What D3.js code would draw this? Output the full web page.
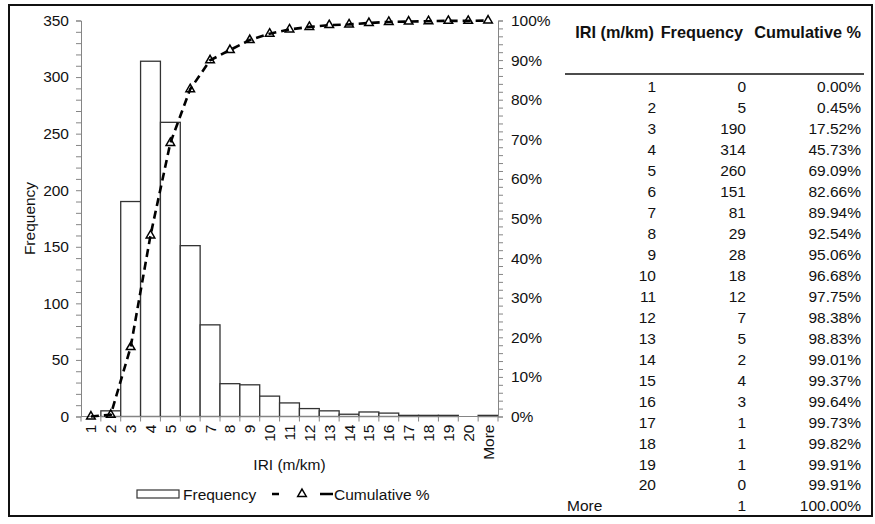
<!DOCTYPE html>
<html>
<head>
<meta charset="utf-8">
<script src="https://cdn.jsdelivr.net/npm/d3@7"></script>
<style>
  html, body { margin: 0; padding: 0; background: #fff; }
  svg { display: block; font-family: "Liberation Sans", Arial, sans-serif; }
</style>
</head>
<body>
<svg id="chart" width="875" height="524"></svg>
<script>
// IRI histogram bins, counts and cumulative share
const binLabels = ["1","2","3","4","5","6","7","8","9","10","11","12","13","14","15","16","17","18","19","20","More"];
const frequency = [0, 5, 190, 314, 260, 151, 81, 29, 28, 18, 12, 7, 5, 2, 4, 3, 1, 1, 1, 0, 1];
const cumulativePct = [0.00, 0.45, 17.52, 45.73, 69.09, 82.66, 89.94, 92.54, 95.06, 96.68, 97.75, 98.38, 98.83, 99.01, 99.37, 99.64, 99.73, 99.82, 99.91, 99.91, 100.00];
const freqTicks = [0, 50, 100, 150, 200, 250, 300, 350];
const pctTicks = [0, 10, 20, 30, 40, 50, 60, 70, 80, 90, 100];
const tableHeaders = ["IRI (m/km)", "Frequency", "Cumulative %"];

const svg = d3.select("#chart");
const FONT = 15.5;

// outer frame
svg.append("rect")
  .attr("x", 9).attr("y", 5).attr("width", 863).attr("height", 511)
  .attr("fill", "none").attr("stroke", "#111").attr("stroke-width", 2);

const plot = { left: 81, right: 498, top: 20.5, bottom: 416.5 };

const x = d3.scaleBand().domain(binLabels).range([plot.left, plot.right]).padding(0);
const yL = d3.scaleLinear().domain([0, 350]).range([plot.bottom, plot.top]);
const yR = d3.scaleLinear().domain([0, 100]).range([plot.bottom, plot.top]);

const axisColor = "#858585";

// bars
svg.append("g").selectAll("rect").data(frequency).join("rect")
  .attr("x", (d, i) => x(binLabels[i]))
  .attr("y", d => yL(d))
  .attr("width", x.bandwidth())
  .attr("height", d => plot.bottom - yL(d))
  .attr("fill", "#fff")
  .attr("stroke", "#333")
  .attr("stroke-width", 1.3);

// left axis: major + minor ticks
const gL = svg.append("g").attr("transform", `translate(${plot.left},0)`);
gL.call(d3.axisLeft(yL).tickValues(d3.range(0, 351, 10)).tickSize(5).tickFormat(""));
gL.call(g => g.selectAll("path,line").attr("stroke", axisColor));
gL.append("g").selectAll("text").data(freqTicks).join("text")
  .attr("x", -12).attr("y", d => yL(d)).attr("dy", "0.35em")
  .attr("text-anchor", "end").attr("font-size", FONT).attr("fill", "#111")
  .text(d => d);

// right axis
const gR = svg.append("g").attr("transform", `translate(${plot.right},0)`);
gR.call(d3.axisRight(yR).tickValues(d3.range(0, 101, 2)).tickSize(5).tickFormat(""));
gR.call(g => g.selectAll("path,line").attr("stroke", axisColor));
gR.append("g").selectAll("text").data(pctTicks).join("text")
  .attr("x", 13).attr("y", d => yR(d)).attr("dy", "0.35em")
  .attr("text-anchor", "start").attr("font-size", FONT).attr("fill", "#111")
  .text(d => d + "%");

// bottom axis: ticks at bin boundaries, rotated labels at bin centres
const gB = svg.append("g").attr("transform", `translate(0,${plot.bottom})`);
gB.append("line").attr("x1", plot.left).attr("x2", plot.right)
  .attr("stroke", axisColor);
const bounds = binLabels.map(c => x(c)).concat([plot.right]);
gB.selectAll("line.tk").data(bounds).join("line").attr("class", "tk")
  .attr("x1", d => d).attr("x2", d => d).attr("y1", 0).attr("y2", 5)
  .attr("stroke", axisColor);
gB.selectAll("text").data(binLabels).join("text")
  .attr("transform", d => `translate(${x(d) + x.bandwidth() / 2},8) rotate(-90)`)
  .attr("dy", "0.35em").attr("text-anchor", "end")
  .attr("font-size", FONT).attr("fill", "#111")
  .text(d => d);

// axis titles
svg.append("text").attr("x", (plot.left + plot.right) / 2).attr("y", 470)
  .attr("text-anchor", "middle").attr("font-size", FONT).attr("fill", "#111")
  .text("IRI (m/km)");
svg.append("text").attr("transform", `translate(35,${(plot.top + plot.bottom) / 2}) rotate(-90)`)
  .attr("text-anchor", "middle").attr("font-size", FONT).attr("fill", "#111")
  .text("Frequency");

// cumulative line
const cx = (d, i) => x(binLabels[i]) + x.bandwidth() / 2;
const line = d3.line().x(cx).y(d => yR(d));
svg.append("path").datum(cumulativePct)
  .attr("d", line).attr("fill", "none")
  .attr("stroke", "#000").attr("stroke-width", 2.6)
  .attr("stroke-dasharray", "8,5");

const tri = d3.symbol().type(d3.symbolTriangle).size(32);
svg.append("g").selectAll("path").data(cumulativePct).join("path")
  .attr("transform", (d, i) => `translate(${cx(d, i)},${yR(d)})`)
  .attr("d", tri)
  .attr("fill", "none").attr("stroke", "#000").attr("stroke-width", 1.5);

// legend
const lg = svg.append("g");
lg.append("rect").attr("x", 137).attr("y", 490).attr("width", 42).attr("height", 8)
  .attr("fill", "#fff").attr("stroke", "#333").attr("stroke-width", 1.2);
lg.append("text").attr("x", 183).attr("y", 499.5).attr("font-size", FONT).attr("fill", "#111")
  .text("Frequency");
lg.append("line").attr("x1", 272).attr("x2", 333).attr("y1", 494).attr("y2", 494)
  .attr("stroke", "#000").attr("stroke-width", 2.6).attr("stroke-dasharray", "7,41,13");
lg.append("path").attr("transform", "translate(302,494)").attr("d", tri)
  .attr("fill", "none").attr("stroke", "#000").attr("stroke-width", 1.5);
lg.append("text").attr("x", 334).attr("y", 499.5).attr("font-size", FONT).attr("fill", "#111")
  .text("Cumulative %");

// frequency table
const colRight = [656, 746, 861];
const tbl = svg.append("g").attr("font-size", FONT).attr("fill", "#111");
tbl.selectAll("text.hd").data(tableHeaders).join("text").attr("class", "hd")
  .attr("x", (d, i) => [654, 743, 861][i]).attr("y", 38)
  .attr("text-anchor", "end").attr("font-weight", "bold").attr("font-size", 16.3)
  .text(d => d);
tbl.append("line").attr("x1", 565).attr("x2", 864).attr("y1", 74).attr("y2", 74)
  .attr("stroke", "#111").attr("stroke-width", 1.5);

const rowY = d3.scalePoint().domain(binLabels).range([87, 506]);
const rows = tbl.selectAll("g.row").data(binLabels).join("g").attr("class", "row")
  .attr("transform", d => `translate(0,${rowY(d)})`);
rows.append("text")
  .attr("x", d => d === "More" ? 567 : colRight[0])
  .attr("text-anchor", d => d === "More" ? "start" : "end")
  .attr("dy", "0.35em").text(d => d);
rows.append("text").attr("x", colRight[1]).attr("text-anchor", "end")
  .attr("dy", "0.35em").text((d, i) => frequency[i]);
rows.append("text").attr("x", colRight[2]).attr("text-anchor", "end")
  .attr("dy", "0.35em").text((d, i) => cumulativePct[i].toFixed(2) + "%");
</script>
</body>
</html>
